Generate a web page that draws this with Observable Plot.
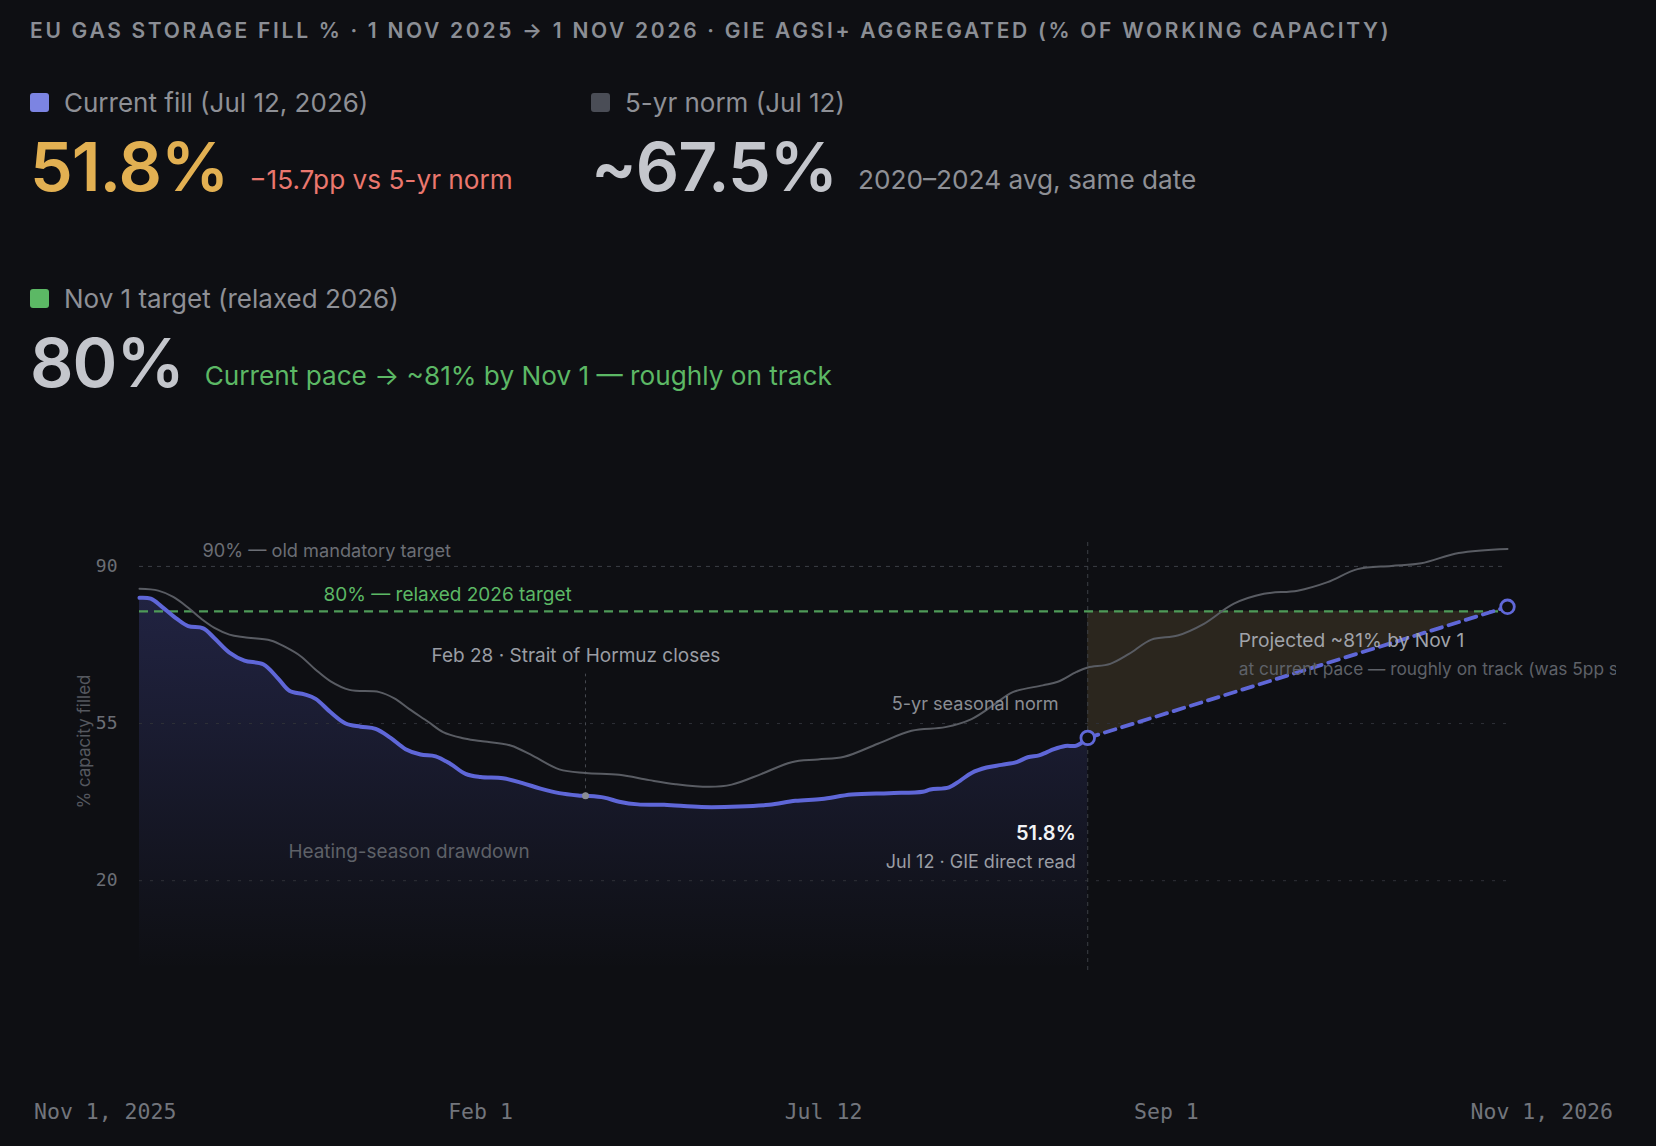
<!DOCTYPE html>
<html>
<head>
<meta charset="utf-8">
<script src="https://cdn.jsdelivr.net/npm/d3@7"></script>
<script src="https://cdn.jsdelivr.net/npm/@observablehq/plot@0.6"></script>
<style>
  html, body { margin: 0; padding: 0; background: #0e0f13; }
  body { width: 1656px; height: 1146px; overflow: hidden; position: relative; font-family: Inter, "Noto Sans", sans-serif; }
  #title { position: absolute; left: 30px; top: 18px; font-size: 21px; font-weight: 600; letter-spacing: 2.7px; color: #8b8e95; white-space: nowrap; }
  .stat { position: absolute; }
  .lab { display: flex; align-items: center; height: 28px; font-size: 26px; color: #8e9096; white-space: nowrap; }
  .sw { width: 19px; height: 19px; border-radius: 3px; margin-right: 15px; flex: none; }
  .row { display: flex; align-items: baseline; margin-top: 16px; white-space: nowrap; }
  .big { font-size: 68px; font-weight: 600; letter-spacing: -1px; line-height: 68px; }
  .sub { font-size: 26.2px; margin-left: 21px; position: relative; top: -2px; }
  #chart { position: absolute; left: 30px; top: 481px; }
  #xlabels { position: absolute; left: 34px; width: 1579px; top: 1099px; display: flex; justify-content: space-between; font-family: "DejaVu Sans Mono", monospace; font-size: 21.5px; color: #72757c; white-space: nowrap; }
</style>
</head>
<body>
<div id="title"></div>
<div id="stats"></div>
<div id="chart"></div>
<div id="xlabels"></div>
<script>
// ---------- data ----------
const titleText = "EU GAS STORAGE FILL % · 1 NOV 2025 → 1 NOV 2026 · GIE AGSI+ AGGREGATED (% OF WORKING CAPACITY)";

const fillDates = ["2025-11-01","2025-11-04","2025-11-07","2025-11-11","2025-11-14","2025-11-18","2025-11-21","2025-11-25","2025-11-29","2025-12-04","2025-12-08","2025-12-11","2025-12-15","2025-12-18","2025-12-22","2025-12-26","2025-12-30","2026-01-03","2026-01-07","2026-01-11","2026-01-15","2026-01-19","2026-01-23","2026-01-27","2026-01-31","2026-02-06","2026-02-11","2026-02-16","2026-02-21","2026-02-26","2026-02-28","2026-03-05","2026-03-09","2026-03-14","2026-03-21","2026-03-31","2026-04-10","2026-04-18","2026-04-25","2026-05-02","2026-05-10","2026-05-20","2026-05-29","2026-05-31","2026-06-05","2026-06-08","2026-06-11","2026-06-15","2026-06-19","2026-06-23","2026-06-26","2026-06-29","2026-07-01","2026-07-03","2026-07-06","2026-07-09","2026-07-12"];
const fillValues = [83.0,82.8,81.0,78.3,76.7,76.2,74.0,70.8,69.0,68.2,65.0,62.3,61.5,60.5,57.5,55.0,54.3,53.8,51.8,49.3,48.1,47.7,46.0,43.8,43.1,42.8,41.8,40.5,39.5,39.0,38.9,38.5,37.6,37.0,36.9,36.4,36.5,36.9,37.8,38.2,39.2,39.5,39.8,40.3,40.8,42.3,44.0,45.2,45.8,46.4,47.5,47.9,48.6,49.3,50.0,50.1,51.8];

const normDates = ["2025-11-01","2025-11-06","2025-11-10","2025-11-14","2025-11-18","2025-11-21","2025-11-25","2025-11-29","2025-12-06","2025-12-10","2025-12-14","2025-12-18","2025-12-22","2025-12-27","2026-01-04","2026-01-08","2026-01-12","2026-01-17","2026-01-21","2026-01-26","2026-01-31","2026-02-08","2026-02-14","2026-02-21","2026-02-28","2026-03-09","2026-03-17","2026-03-24","2026-04-02","2026-04-08","2026-04-16","2026-04-24","2026-05-01","2026-05-08","2026-05-17","2026-05-26","2026-06-04","2026-06-11","2026-06-17","2026-06-22","2026-06-30","2026-07-04","2026-07-09","2026-07-12","2026-07-18","2026-07-23","2026-07-29","2026-08-05","2026-08-12","2026-08-20","2026-08-28","2026-09-06","2026-09-14","2026-09-22","2026-10-01","2026-10-09","2026-10-19","2026-11-01"];
const normValues = [85.0,84.6,83.2,80.8,78.0,76.3,74.8,74.2,73.5,72.0,70.0,67.0,64.4,62.5,62.0,60.6,58.2,55.4,53.1,51.8,51.1,50.1,47.8,44.8,44.0,43.6,42.4,41.5,40.9,41.4,43.8,46.4,47.0,47.6,50.5,53.4,54.2,56.0,59.2,62.0,63.5,64.3,66.5,67.5,68.3,70.5,73.7,74.6,77.2,81.7,83.9,84.6,86.5,89.4,90.1,90.7,93.0,93.9];

const projDates = ["2026-07-12","2026-11-01"];
const projValues = [51.8, 81];

const yTicks = [20, 55, 90];
const xTickLabels = ["Nov 1, 2025", "Feb 1", "Jul 12", "Sep 1", "Nov 1, 2026"];

const domainStart = "2025-11-01", domainEnd = "2026-11-01";
const todayDate = "2026-07-12", hormuzDate = "2026-02-28";
const oldTarget = 90, newTarget = 80;

const stats = [
  {swatch: "#7c84e2", label: "Current fill (Jul 12, 2026)", big: "51.8%", bigColor: "#e2b052", sub: "\u221215.7pp vs 5-yr norm", subColor: "#ea776e", left: 30, top: 88},
  {swatch: "#4a4d56", label: "5-yr norm (Jul 12)", big: "~67.5%", bigColor: "#c4c6cc", sub: "2020\u20132024 avg, same date", subColor: "#8e9096", left: 591, top: 88},
  {swatch: "#5cb865", label: "Nov 1 target (relaxed 2026)", big: "80%", bigColor: "#c4c6cc", sub: "Current pace \u2192 ~81% by Nov 1 \u2014 roughly on track", subColor: "#5cb865", left: 30, top: 284}
];

// ---------- header ----------
document.getElementById("title").textContent = titleText;
const statsEl = d3.select("#stats");
for (const s of stats) {
  const b = statsEl.append("div").attr("class", "stat").style("left", s.left + "px").style("top", s.top + "px");
  const l = b.append("div").attr("class", "lab");
  l.append("span").attr("class", "sw").style("background", s.swatch);
  l.append("span").text(s.label);
  const r = b.append("div").attr("class", "row");
  r.append("span").attr("class", "big").style("color", s.bigColor).text(s.big);
  r.append("span").attr("class", "sub").style("color", s.subColor).text(s.sub);
}

// ---------- chart ----------
const D = s => new Date(s + "T00:00:00Z");
const fill = fillDates.map((d, i) => ({date: D(d), v: fillValues[i]}));
const norm = normDates.map((d, i) => ({date: D(d), v: normValues[i]}));
const proj = projDates.map((d, i) => ({date: D(d), v: projValues[i]}));
const x0 = D(domainStart), x1 = D(domainEnd);
const today = D(todayDate), hormuz = D(hormuzDate);
const hormuzValue = fillValues[fillDates.indexOf(hormuzDate)];

const defs = () => {
  const g = d3.create("svg:defs");
  const lg = g.append("linearGradient").attr("id", "fillGrad").attr("x1", 0).attr("y1", 0).attr("x2", 0).attr("y2", 1);
  lg.append("stop").attr("offset", "0%").attr("stop-color", "#646ae6").attr("stop-opacity", 0.22);
  lg.append("stop").attr("offset", "100%").attr("stop-color", "#646ae6").attr("stop-opacity", 0);
  return g.node();
};

const T = (text, opts) => Plot.text([text], {text: d => d, fontFamily: "Inter", lineAnchor: "middle", ...opts});

const chart = Plot.plot({
  width: 1586,
  height: 509,
  marginLeft: 109,
  marginRight: 109,
  marginTop: 40,
  marginBottom: 20,
  style: {background: "transparent", color: "#6b6e75", fontFamily: "'DejaVu Sans Mono', monospace", fontSize: "18px", overflow: "hidden"},
  x: {type: "utc", domain: [x0, x1], axis: null},
  y: {domain: [0, 100], axis: null},
  marks: [
    defs,
    Plot.areaY(proj, {x: "date", y1: "v", y2: newTarget, fill: "#d9b060", fillOpacity: 0.15}),
    Plot.areaY(fill, {x: "date", y1: 0, y2: "v", fill: "url(#fillGrad)", curve: "catmull-rom"}),
    Plot.ruleY([20, 55], {x1: x0, x2: x1, stroke: "#2f3138", strokeDasharray: "3,8"}),
    Plot.ruleY([oldTarget], {x1: x0, x2: x1, stroke: "#3c3f46", strokeDasharray: "4,5"}),
    Plot.ruleY([newTarget], {x1: x0, x2: x1, stroke: "#4e9a58", strokeWidth: 2.2, strokeDasharray: "9,6"}),
    Plot.ruleX([today], {y1: 0, y2: 96, stroke: "#3c3f46", strokeDasharray: "4,4"}),
    Plot.ruleX([hormuz], {y1: hormuzValue, y2: 66, stroke: "#45484f", strokeDasharray: "3,4"}),
    Plot.line(norm, {x: "date", y: "v", stroke: "#595c63", strokeWidth: 2, curve: "catmull-rom"}),
    Plot.line(fill, {x: "date", y: "v", stroke: "#5f67d8", strokeWidth: 4, curve: "catmull-rom"}),
    Plot.line(proj, {x: "date", y: "v", stroke: "#5f67d8", strokeWidth: 3.8, strokeDasharray: "11,7"}),
    Plot.dot([{date: hormuz, v: hormuzValue}], {x: "date", y: "v", r: 3.5, fill: "#8a8d94"}),
    Plot.dot(proj, {x: "date", y: "v", r: 6.8, stroke: "#6068d8", strokeWidth: 2.8, fill: "#0e0f13"}),
    Plot.axisY(yTicks, {tickSize: 0, tickPadding: 22, label: null, fontSize: 18}),
    Plot.text(["% capacity filled"], {text: d => d, frameAnchor: "left", y: () => 51, dx: -54.5, rotate: -90, textAnchor: "middle", fontFamily: "Inter", fontSize: 17, fill: "#55585f"}),
    T("90% \u2014 old mandatory target", {x: () => x0, y: () => oldTarget, dx: 63, dy: -15, textAnchor: "start", fontSize: 18.2, fill: "#6b6e75"}),
    T("80% \u2014 relaxed 2026 target", {x: () => x0, y: () => newTarget, dx: 184, dy: -16, textAnchor: "start", fontSize: 19, fill: "#5cb865"}),
    T("Feb 28 \u00b7 Strait of Hormuz closes", {x: () => hormuz, y: () => 70, dx: -154, textAnchor: "start", fontSize: 19, fill: "#9a9da4"}),
    T("5-yr seasonal norm", {x: () => today, y: () => 59.2, dx: -29, textAnchor: "end", fontSize: 18.1, fill: "#8a8d94"}),
    T("Heating-season drawdown", {x: () => x0, y: () => 26.5, dx: 149, textAnchor: "start", fontSize: 18.9, fill: "#5e6168"}),
    T("51.8%", {x: () => today, y: () => 30.5, dx: -12, textAnchor: "end", fontSize: 20, fontWeight: 600, fill: "#f2f3f5"}),
    T("Jul 12 \u00b7 GIE direct read", {x: () => today, y: () => 24.2, dx: -12, textAnchor: "end", fontSize: 18, fill: "#9a9da4"}),
    T("Projected ~81% by Nov 1", {x: () => today, y: () => 73.5, dx: 151, textAnchor: "start", fontSize: 19.2, fill: "#a0a3aa"}),
    T("at current pace \u2014 roughly on track (was 5pp short before the June rebound)", {x: () => today, y: () => 67, dx: 151, textAnchor: "start", fontSize: 17.3, fill: "#5e6168"})
  ]
});
document.getElementById("chart").appendChild(chart);

// ---------- bottom date labels ----------
d3.select("#xlabels").selectAll("span").data(xTickLabels).join("span").text(d => d);
</script>
</body>
</html>
